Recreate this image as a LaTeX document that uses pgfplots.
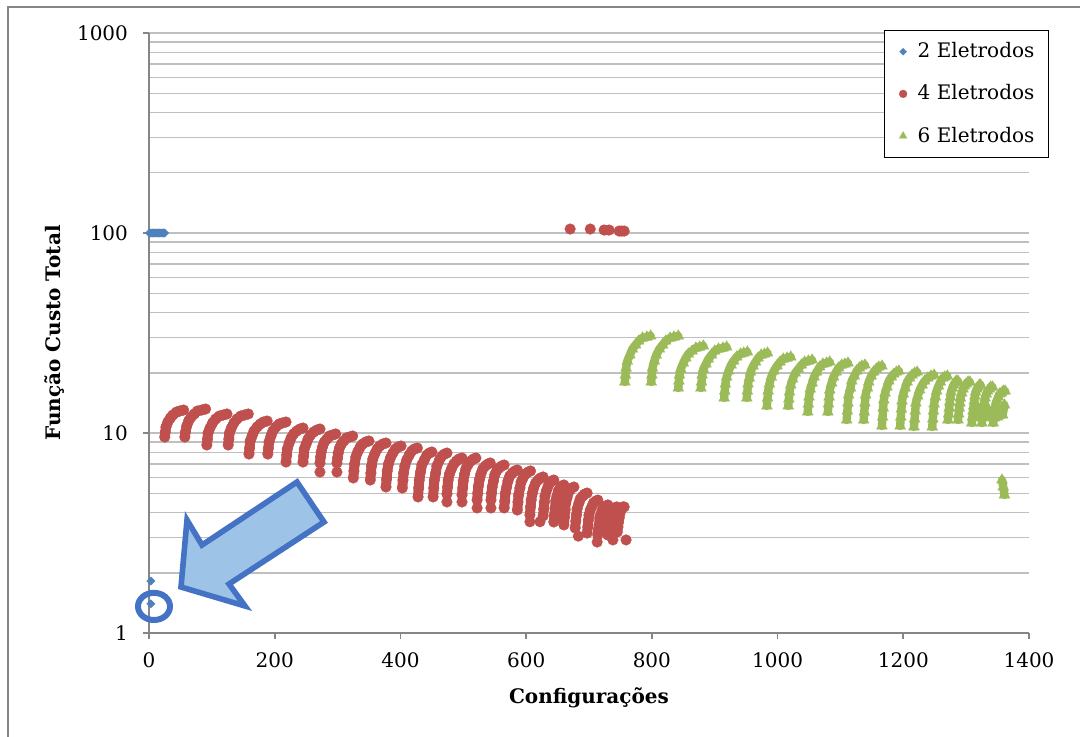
\documentclass[border=0pt]{standalone}
\usepackage{pgfplots}
\pgfplotsset{compat=1.18}
\usepackage{pgfplotstable}
\usepackage{fontspec}
\setmainfont{DejaVu Serif}

\definecolor{serA}{HTML}{4F81BD}
\definecolor{serB}{HTML}{C0504D}
\definecolor{serC}{HTML}{9BBB59}
\definecolor{gridgray}{RGB}{191,191,191}
\definecolor{axisgray}{RGB}{134,134,134}
\definecolor{calloutline}{HTML}{4472C4}
\definecolor{calloutfill}{HTML}{9DC3E6}

% 2 electrodes
\pgfplotstableread{
x y
1 100
3 100
5 100
7 100
9 100
11 100
13 100
15 100
17 100
19 100
21 100
23 100
25 100
3 1.82
3 1.40
}\twoel

% 4 electrodes (nan rows separate the runs of consecutive configurations)
\pgfplotstableread{
x y
25 9.55
26 10.12
27 10.72
30 11.35
34 11.89
38 12.30
44 12.74
49 12.88
55 13.03
nan nan
57 9.55
58 10.12
60 10.84
63 11.48
67 12.02
72 12.45
77 12.88
84 13.03
90 13.18
nan nan
92 8.71
93 9.33
94 10.00
97 10.59
101 11.22
106 11.75
112 12.16
118 12.30
124 12.45
nan nan
126 8.71
127 9.33
128 10.00
131 10.59
135 11.22
140 11.75
146 12.16
152 12.30
158 12.45
nan nan
159 7.85
160 8.41
161 9.12
164 9.66
167 10.23
172 10.72
177 11.09
182 11.35
188 11.48
nan nan
189 7.85
190 8.41
191 9.02
194 9.66
197 10.23
202 10.72
207 11.09
212 11.22
218 11.35
nan nan
218 7.16
219 7.76
220 8.32
223 8.91
226 9.44
230 9.89
235 10.23
240 10.47
245 10.59
nan nan
245 7.16
246 7.67
247 8.32
250 8.81
253 9.33
257 9.77
262 10.12
267 10.35
272 10.47
nan nan
272 6.38
nan nan
272 7.08
273 7.59
274 8.04
276 8.51
279 9.02
283 9.33
287 9.66
292 9.77
297 9.89
nan nan
299 6.38
nan nan
299 7.08
300 7.50
301 7.94
303 8.41
306 8.81
310 9.12
314 9.44
319 9.55
324 9.66
nan nan
325 5.96
326 6.46
327 7.00
329 7.59
332 8.04
336 8.51
340 8.81
345 9.02
350 9.12
nan nan
352 5.82
353 6.31
354 6.84
356 7.41
359 7.85
363 8.32
367 8.61
372 8.81
377 8.91
nan nan
377 5.37
378 5.89
379 6.46
381 7.00
384 7.50
388 7.94
392 8.32
396 8.51
401 8.61
nan nan
403 5.31
404 5.82
405 6.31
407 6.84
410 7.33
414 7.76
418 8.13
422 8.32
427 8.41
nan nan
428 4.79
429 5.31
430 5.82
432 6.38
434 6.92
438 7.33
442 7.76
446 7.94
450 8.04
nan nan
452 4.79
453 5.31
454 5.82
456 6.31
458 6.84
462 7.33
466 7.67
470 7.85
474 7.94
nan nan
474 4.52
nan nan
474 4.95
475 5.37
476 5.82
478 6.24
481 6.61
485 7.00
489 7.24
493 7.41
498 7.50
nan nan
498 4.52
nan nan
498 4.90
499 5.31
500 5.75
502 6.24
504 6.61
508 7.00
512 7.24
516 7.41
520 7.50
nan nan
522 4.22
nan nan
522 4.62
523 5.01
524 5.43
526 5.89
528 6.24
531 6.61
535 6.84
539 7.00
543 7.08
nan nan
544 4.22
nan nan
544 4.62
545 5.01
546 5.37
548 5.75
550 6.17
553 6.46
557 6.68
561 6.84
565 6.92
nan nan
565 4.22
566 4.57
567 5.01
569 5.37
571 5.75
574 6.10
578 6.31
582 6.46
586 6.53
nan nan
586 4.12
587 4.52
588 4.90
590 5.31
592 5.69
595 5.96
599 6.24
603 6.38
607 6.46
nan nan
606 3.60
nan nan
622 3.60
nan nan
606 3.89
607 4.27
608 4.62
610 5.01
612 5.31
615 5.62
619 5.82
623 5.96
627 6.03
nan nan
627 3.85
628 4.17
629 4.52
630 4.84
632 5.13
635 5.43
637 5.62
641 5.75
644 5.82
nan nan
644 3.59
645 3.89
646 4.22
647 4.57
649 4.84
651 5.13
654 5.31
657 5.43
660 5.50
nan nan
660 3.47
661 3.80
662 4.12
663 4.47
665 4.73
667 5.01
670 5.19
673 5.31
676 5.37
nan nan
678 3.35
679 3.63
680 3.89
681 4.17
684 4.47
686 4.68
690 4.84
693 4.95
697 5.01
nan nan
683 3.05
nan nan
697 3.16
698 3.39
699 3.67
700 3.89
702 4.12
705 4.32
707 4.47
711 4.57
714 4.62
nan nan
713 2.85
nan nan
714 3.09
715 3.31
716 3.47
717 3.76
719 3.94
721 4.12
724 4.27
727 4.32
730 4.37
nan nan
730 3.09
731 3.27
732 3.47
733 3.72
734 3.89
736 4.03
739 4.17
741 4.22
744 4.27
nan nan
738 2.92
nan nan
745 3.20
746 3.39
747 3.59
748 3.76
749 3.94
750 4.07
752 4.17
754 4.27
756 4.27
nan nan
759 2.92
nan nan
670 104.7
nan nan
702 104.7
nan nan
724 103.5
732 103.5
nan nan
748 102.3
752 102.3
756 102.3
}\fourel

% 6 electrodes
\pgfplotstableread{
x y
757 17.99
758 19.50
759 21.14
761 22.91
765 24.55
769 26.30
774 27.54
779 28.84
785 29.85
792 30.20
798 30.55
nan nan
799 17.99
800 19.50
801 21.14
804 22.91
807 24.55
812 26.30
817 27.54
822 28.84
829 29.85
835 30.20
842 30.55
nan nan
842 16.79
843 18.20
844 19.50
846 20.89
850 22.39
854 23.71
858 24.83
864 25.70
870 26.61
876 26.92
882 27.23
nan nan
878 16.79
879 17.99
880 19.50
882 20.89
886 22.13
890 23.44
895 24.55
900 25.70
906 26.30
913 26.61
919 26.92
nan nan
915 14.96
916 16.22
917 17.58
919 19.06
922 20.42
926 21.88
930 22.91
935 23.99
941 24.83
946 25.12
952 25.41
nan nan
951 14.96
952 16.22
953 17.58
955 18.84
957 20.18
961 21.63
965 22.65
969 23.71
974 24.55
979 24.83
984 25.12
nan nan
983 13.65
984 14.96
985 16.22
987 17.58
990 19.06
994 20.42
999 21.63
1004 22.65
1009 23.44
1015 23.71
1021 23.99
nan nan
1017 13.65
1018 14.79
1019 16.03
1021 17.38
1024 18.62
1028 19.95
1033 20.89
1038 21.88
1043 22.65
1049 22.91
1055 23.17
nan nan
1048 12.74
1049 13.96
1050 15.14
1052 16.60
1055 17.78
1058 19.06
1062 20.18
1067 21.38
1072 22.13
1078 22.39
1083 22.65
nan nan
1080 12.74
1081 13.96
1082 15.14
1083 16.41
1086 17.78
1089 19.06
1093 20.18
1097 21.14
1102 21.88
1107 22.13
1112 22.39
nan nan
1110 11.61
1111 12.88
1112 14.13
1113 15.49
1116 16.79
1118 18.20
1122 19.28
1126 20.42
1130 21.14
1134 21.63
1139 21.88
nan nan
1137 11.61
1138 12.74
1139 14.13
1140 15.49
1143 16.79
1145 17.99
1149 19.28
1153 20.18
1157 20.89
1161 21.38
1166 21.63
nan nan
1166 10.84
1167 12.02
1168 13.34
1169 14.62
1171 15.85
1174 16.98
1177 18.20
1181 19.06
1185 19.72
1189 20.18
1193 20.42
nan nan
1195 10.84
1196 12.02
1197 13.18
1198 14.45
1200 15.67
1203 16.79
1206 17.99
1210 18.84
1214 19.50
1218 19.95
1222 20.18
nan nan
1217 10.72
1218 11.75
1219 12.88
1220 14.13
1223 15.31
1226 16.41
1230 17.38
1234 18.20
1239 18.84
1244 19.28
1249 19.50
nan nan
1246 10.72
1247 11.75
1248 12.88
1249 13.96
1251 15.14
1253 16.22
1256 17.18
1259 17.99
1263 18.84
1266 19.06
1270 19.28
nan nan
1271 11.61
1272 12.45
1273 13.34
1274 14.29
1275 15.14
1276 16.03
1278 16.79
1280 17.38
1282 17.78
1284 18.20
1287 18.20
nan nan
1287 11.61
1288 12.45
1289 13.34
1290 14.13
1291 14.96
1293 15.85
1295 16.60
1297 17.18
1300 17.58
1303 17.99
1306 17.99
nan nan
1309 11.22
1310 12.02
1311 12.88
1312 13.65
1313 14.45
1314 15.31
1315 16.03
1317 16.60
1319 16.98
1321 17.38
1323 17.38
nan nan
1325 11.22
1326 12.02
1327 12.74
1328 13.49
1329 14.29
1330 14.96
1332 15.67
1334 16.22
1337 16.60
1339 16.98
1342 16.98
nan nan
1343 11.22
1344 11.89
1345 12.59
1346 13.34
1347 13.96
1349 14.62
1351 15.14
1353 15.67
1356 15.85
1359 16.22
1362 16.22
nan nan
1318 12.00
1320 13.20
nan nan
1333 12.00
1336 13.00
1340 12.20
nan nan
1350 12.00
1354 13.00
1358 12.30
1361 13.80
nan nan
1357 5.82
1359 5.37
1361 4.90
}\sixel

\begin{document}
\begin{tikzpicture}
\path[use as bounding box] (-74.5pt,-51.5pt) rectangle (465.5pt,316.5pt);
% chart frame
\draw[axisgray, line width=0.8pt] (-70.5pt,-80pt) rectangle (500pt,313pt);
\begin{axis}[
  at={(0pt,0pt)}, anchor=south west,
  scale only axis, width=440pt, height=300pt,
  xmin=0, xmax=1400, ymin=1, ymax=1000, ymode=log,
  axis x line*=bottom, axis y line*=left,
  axis line style={axisgray, line width=0.8pt},
  xtick={0,200,...,1400}, xticklabels={0,200,400,600,800,1000,1200,1400},
  ytick={1,10,100,1000}, yticklabels={1,10,100,1000},
  tick align=outside, major tick length=3pt, minor tick length=0pt,
  tick style={axisgray, line width=0.8pt},
  ymajorgrids, yminorgrids,
  major grid style={gridgray, line width=0.7pt},
  minor grid style={gridgray, line width=0.7pt},
  tick label style={font=\fontsize{10}{12}\selectfont},
  yticklabel style={xshift=-4pt},
  xticklabel style={yshift=-3.5pt},
  xlabel={\bfseries Configurações},
  ylabel={\bfseries Função Custo Total},
  label style={font=\fontsize{10}{12}\selectfont},
  xlabel style={at={(axis description cs:0.5,-0.108)}, anchor=center},
  ylabel style={at={(axis description cs:-0.107,0.5)}, anchor=center},
  clip=false,
  legend style={at={(rel axis cs:1.0227,1.005)}, anchor=north east,
    draw=black, line width=0.6pt, fill=white,
    inner xsep=5pt, inner ysep=4pt, row sep=8pt,
    font=\fontsize{10}{12}\selectfont},
  legend cell align=left,
  legend image code/.code={\path (0pt,0pt) (9pt,0pt); \draw[#1] plot coordinates {(4pt,0pt)};},
]
% legend keys
\addlegendimage{only marks, mark=square*, mark size=1.25pt,
  mark options={rotate=45, fill=serA, draw=serA, line width=0.1pt}}
\addlegendentry{2 Eletrodos}
\addlegendimage{only marks, mark=*, mark size=2pt,
  mark options={fill=serB, draw=serB, line width=0.1pt}}
\addlegendentry{4 Eletrodos}
\addlegendimage{only marks, mark=triangle*, mark size=2.3pt,
  mark options={fill=serC, draw=serC, line width=0.1pt}}
\addlegendentry{6 Eletrodos}
% dense runs of configurations merge into continuous strokes
\addplot[forget plot, serB, line width=5pt, line cap=round, line join=round,
  unbounded coords=jump, mark=none] table[x=x, y=y] {\fourel};
\addplot[forget plot, serC, line width=4.2pt, line cap=round, line join=round,
  unbounded coords=jump, mark=none] table[x=x, y=y] {\sixel};
\addplot[forget plot, only marks, mark=square*, mark size=1.5pt,
  mark options={rotate=45, fill=serA, draw=serA, line width=0.1pt}]
  table[x=x, y=y] {\twoel};
\addplot[forget plot, only marks, mark=*, mark size=2.7pt,
  mark options={fill=serB, draw=serB, line width=0.1pt}]
  table[x=x, y=y] {\fourel};
\addplot[forget plot, only marks, mark=triangle*, mark size=3.2pt,
  mark options={fill=serC, draw=serC, line width=0.1pt}]
  table[x=x, y=y] {\sixel};
\end{axis}
% callout around the two lowest configurations
\draw[calloutline, line width=3pt] (2.5pt,13.3pt) ellipse [x radius=8pt, y radius=6.8pt];
\draw[calloutline, line width=2.8pt, fill=calloutfill, line join=miter]
  (74pt,75.5pt) -- (87.5pt,55.5pt) -- (40pt,24.5pt) -- (48pt,13.5pt)
  -- (16pt,23pt) -- (19pt,56.5pt) -- (26.5pt,44pt) -- cycle;
\end{tikzpicture}
\end{document}
